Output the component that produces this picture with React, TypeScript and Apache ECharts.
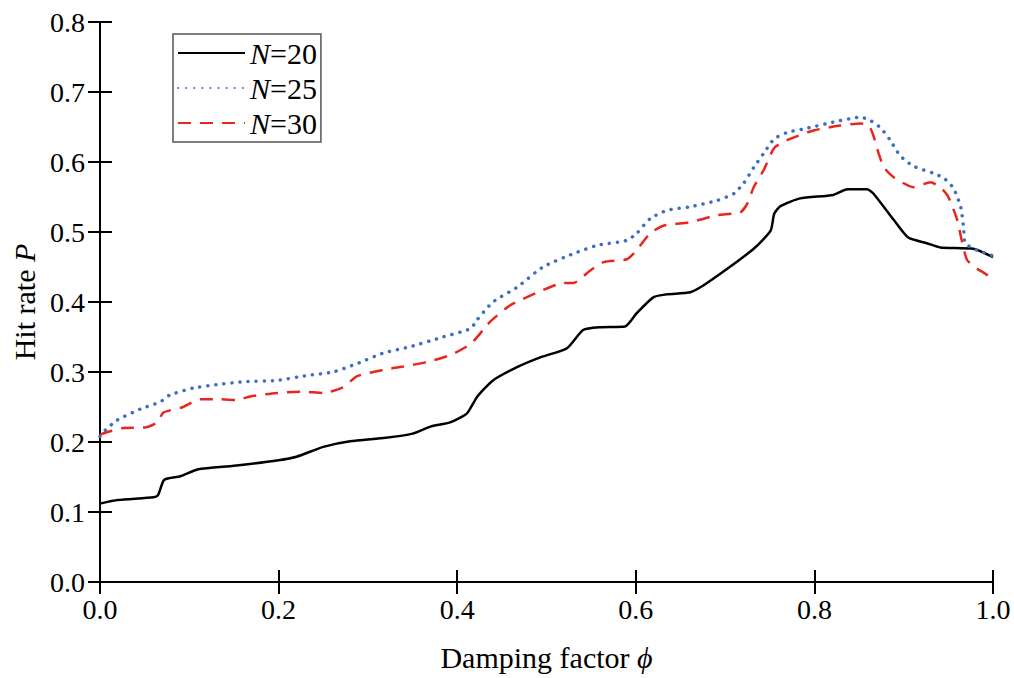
import React, { useEffect, useRef } from "react";
import * as echarts from "echarts";

const xTicks = [0, 0.2, 0.4, 0.6, 0.8, 1.0];

const phi20 = [0, 0.02, 0.06, 0.065, 0.072, 0.09, 0.11, 0.15, 0.2, 0.22, 0.25, 0.28, 0.32, 0.35, 0.37, 0.392, 0.411, 0.422, 0.44, 0.467, 0.493, 0.523, 0.541, 0.56, 0.588, 0.601, 0.62, 0.635, 0.661, 0.676, 0.702, 0.732, 0.751, 0.755, 0.762, 0.784, 0.821, 0.837, 0.859, 0.866, 0.889, 0.905, 0.926, 0.941, 0.978, 1.0];
const p20 = [0.112, 0.117, 0.121, 0.124, 0.146, 0.151, 0.161, 0.166, 0.174, 0.179, 0.193, 0.201, 0.206, 0.212, 0.222, 0.228, 0.241, 0.264, 0.288, 0.307, 0.321, 0.334, 0.36, 0.364, 0.365, 0.384, 0.407, 0.411, 0.414, 0.424, 0.447, 0.476, 0.502, 0.526, 0.537, 0.548, 0.553, 0.561, 0.561, 0.555, 0.517, 0.492, 0.484, 0.478, 0.476, 0.464];

const phi25 = [0, 0.006, 0.019, 0.045, 0.067, 0.078, 0.104, 0.131, 0.16, 0.198, 0.232, 0.261, 0.288, 0.317, 0.347, 0.384, 0.415, 0.422, 0.44, 0.467, 0.496, 0.53, 0.557, 0.59, 0.601, 0.616, 0.635, 0.661, 0.691, 0.71, 0.721, 0.732, 0.743, 0.755, 0.769, 0.791, 0.821, 0.852, 0.863, 0.874, 0.885, 0.896, 0.911, 0.933, 0.945, 0.956, 0.964, 0.967, 0.969, 0.982, 1.0];
const p25 = [0.208, 0.217, 0.231, 0.247, 0.257, 0.267, 0.277, 0.282, 0.286, 0.288, 0.295, 0.3, 0.312, 0.327, 0.336, 0.35, 0.362, 0.374, 0.4, 0.421, 0.45, 0.469, 0.481, 0.488, 0.498, 0.519, 0.531, 0.536, 0.545, 0.555, 0.57, 0.592, 0.612, 0.633, 0.642, 0.648, 0.657, 0.664, 0.659, 0.649, 0.631, 0.609, 0.594, 0.584, 0.577, 0.562, 0.535, 0.507, 0.484, 0.474, 0.466];

const phi30 = [0, 0.003, 0.026, 0.052, 0.064, 0.071, 0.093, 0.112, 0.134, 0.153, 0.168, 0.198, 0.228, 0.25, 0.272, 0.288, 0.317, 0.34, 0.362, 0.392, 0.415, 0.429, 0.437, 0.459, 0.496, 0.519, 0.53, 0.549, 0.564, 0.59, 0.601, 0.616, 0.631, 0.661, 0.691, 0.717, 0.725, 0.732, 0.743, 0.755, 0.769, 0.799, 0.829, 0.852, 0.861, 0.866, 0.872, 0.878, 0.889, 0.911, 0.93, 0.941, 0.95, 0.96, 0.965, 0.971, 0.982, 0.994, 1.0];
const p30 = [0.21, 0.212, 0.22, 0.221, 0.228, 0.242, 0.25, 0.261, 0.261, 0.26, 0.265, 0.27, 0.272, 0.27, 0.278, 0.294, 0.303, 0.308, 0.313, 0.324, 0.34, 0.36, 0.372, 0.395, 0.417, 0.427, 0.427, 0.445, 0.457, 0.461, 0.474, 0.498, 0.509, 0.514, 0.524, 0.528, 0.541, 0.564, 0.588, 0.62, 0.631, 0.645, 0.652, 0.655, 0.652, 0.638, 0.612, 0.592, 0.578, 0.564, 0.571, 0.564, 0.55, 0.517, 0.488, 0.46, 0.448, 0.438, 0.43];

const seriesNames = ["N=20", "N=25", "N=30"];

const FONT = "Liberation Serif";

function zip(xs: number[], ys: number[]) {
  return xs.map((x, i) => [x, ys[i]]);
}

export default function App() {
  const ref = useRef<HTMLDivElement>(null);
  useEffect(() => {
    document.body.style.margin = "0";
    const chart = echarts.init(ref.current!, null, { renderer: "svg" });
    const axisLine = { show: true, lineStyle: { color: "#000", width: 2 } };
    const axisTick = { show: true, inside: true, length: 12, lineStyle: { color: "#000", width: 2 } };
    const labelStyle = { color: "#000", fontFamily: FONT, fontSize: 28 };
    const nameStyle = {
      color: "#000",
      fontFamily: FONT,
      fontSize: 30,
      rich: { i: { fontStyle: "italic", fontFamily: FONT, fontSize: 30, color: "#000" } },
    };
    chart.setOption({
      animation: false,
      backgroundColor: "#fff",
      grid: { left: 100, right: 21, top: 22, bottom: 96, containLabel: false },
      legend: {
        orient: "vertical",
        left: 173,
        top: 34,
        data: seriesNames,
        itemWidth: 67,
        itemHeight: 14,
        itemGap: 5,
        padding: [4, 4, 4, 4],
        borderColor: "#555",
        borderWidth: 1.5,
        borderRadius: 0,
        itemStyle: { opacity: 0 },
        formatter: (name: string) => "{i|N}" + name.slice(1),
        textStyle: {
          color: "#000",
          fontFamily: FONT,
          fontSize: 30,
          rich: {
            i: { fontStyle: "italic", fontFamily: FONT, fontSize: 30, color: "#000" },
          },
        },
      },
      xAxis: [
        {
          type: "value",
          min: 0,
          max: 1,
          interval: 0.2,
          position: "bottom",
          axisLine,
          axisTick,
          splitLine: { show: false },
          axisLabel: { ...labelStyle, margin: 13, formatter: (v: number) => v.toFixed(1) },
          name: "Damping factor {i|ϕ}",
          nameLocation: "middle",
          nameGap: 60,
          nameTextStyle: nameStyle,
        },
        {
          type: "value",
          min: 0,
          max: 1,
          interval: 0.2,
          position: "top",
          axisLine,
          axisTick,
          splitLine: { show: false },
          axisLabel: { show: false },
        },
      ],
      yAxis: [
        {
          type: "value",
          min: 0,
          max: 0.8,
          interval: 0.1,
          position: "left",
          axisLine,
          axisTick,
          splitLine: { show: false },
          axisLabel: { ...labelStyle, margin: 15, formatter: (v: number) => v.toFixed(1) },
          name: "Hit rate {i|P}",
          nameLocation: "middle",
          nameGap: 60,
          nameTextStyle: nameStyle,
        },
        {
          type: "value",
          min: 0,
          max: 0.8,
          interval: 0.1,
          position: "right",
          axisLine,
          axisTick,
          splitLine: { show: false },
          axisLabel: { show: false },
        },
      ],
      series: [
        {
          name: seriesNames[0],
          type: "line",
          data: zip(phi20, p20),
          symbol: "none",
          smooth: 0.2,
          color: "#000",
          lineStyle: { color: "#000", width: 2.5 },
        },
        {
          name: seriesNames[1],
          type: "line",
          data: zip(phi25, p25),
          symbol: "none",
          smooth: 0.2,
          color: "#3f6fc4",
          lineStyle: { color: "#3f6fc4", width: 3.5, type: [0.1, 8], cap: "round" },
        },
        {
          name: seriesNames[2],
          type: "line",
          data: zip(phi30, p30),
          symbol: "none",
          smooth: 0.2,
          color: "#e8261e",
          lineStyle: { color: "#e8261e", width: 2.5, type: [13, 9] },
        },
      ],
    });
    return () => chart.dispose();
  }, []);
  return <div ref={ref} style={{ width: 1014, height: 678 }} />;
}
